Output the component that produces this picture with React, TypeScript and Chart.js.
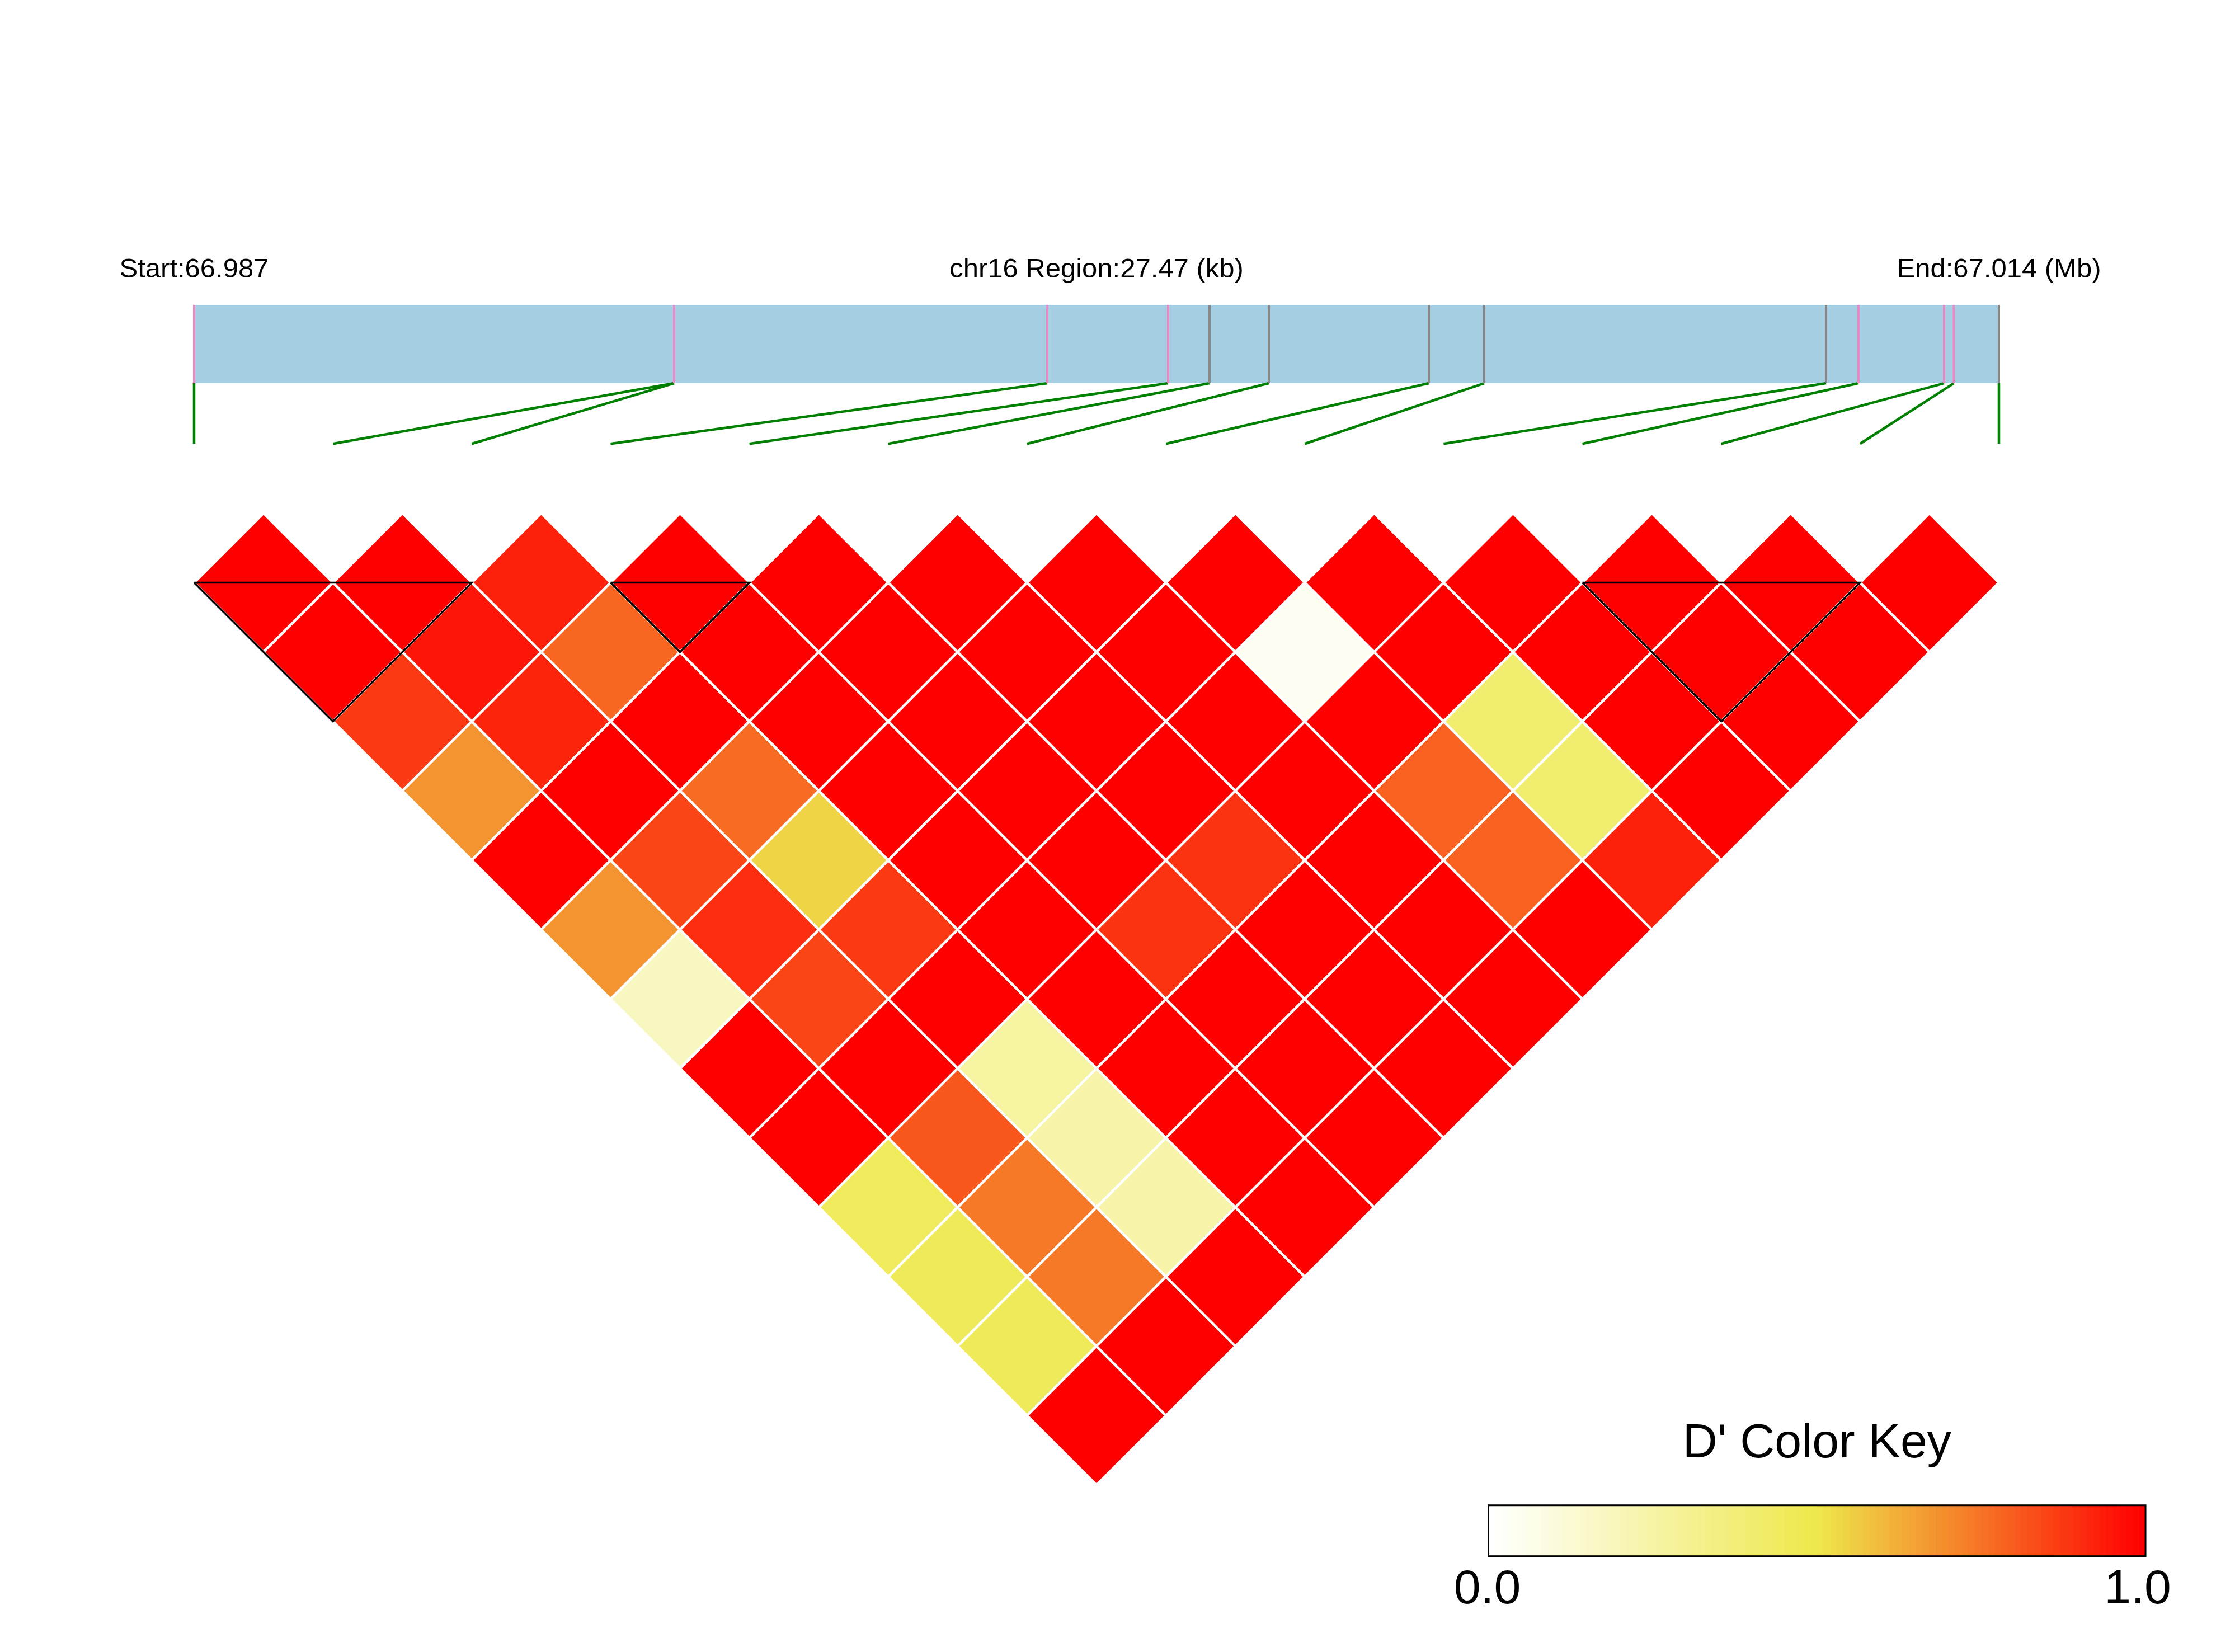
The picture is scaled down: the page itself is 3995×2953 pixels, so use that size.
import React, { useEffect, useRef } from "react";
import { Chart, registerables } from "chart.js";

Chart.register(...registerables);

// ---------------- data ----------------
const CHROM = "chr16";
const START_MB = "66.987";
const END_MB = "67.014";
const REGION_KB = 27.47;

// SNP positions as offsets (kb) from region start
const snpPosKb = [0, 7.306, 7.306, 12.986, 14.825, 15.455, 16.358, 18.793, 19.636, 24.839, 25.333, 26.635, 26.784, 27.47];
// marker class on the region bar (1 = pink mark, 2 = grey mark)
const snpClass = [1, 1, 1, 1, 1, 2, 2, 2, 2, 2, 1, 1, 1, 2];

// D' values: row i holds pairs (i, i+1) ... (i, 13)
const dRow0 = [1, 1, 0.875, 0.68, 1, 0.68, 0.175, 1, 1, 0.45, 0.46, 0.46, 1];
const dRow1 = [1, 0.955, 0.92, 1, 0.85, 0.9, 0.85, 1, 0.815, 0.74, 0.74, 1];
const dRow2 = [0.93, 0.78, 1, 0.77, 0.54, 0.875, 1, 0.26, 0.24, 0.24, 1];
const dRow3 = [1, 1, 1, 1, 1, 1, 1, 1, 1, 1];
const dRow4 = [1, 1, 1, 1, 1, 0.89, 1, 1, 1];
const dRow5 = [1, 1, 1, 1, 0.89, 1, 1, 1];
const dRow6 = [1, 1, 1, 1, 1, 1, 1];
const dRow7 = [1, 0.04, 1, 0.79, 0.79, 1];
const dRow8 = [1, 1, 0.4, 0.4, 0.93];
const dRow9 = [1, 1, 1, 1];
const dRow10 = [1, 1, 1];
const dRow11 = [1, 1];
const dRow12 = [1];
const dprimeRows = [dRow0, dRow1, dRow2, dRow3, dRow4, dRow5, dRow6, dRow7, dRow8, dRow9, dRow10, dRow11, dRow12];

// haplotype blocks (first SNP index, last SNP index)
const blocks = [[0, 2], [3, 4], [10, 12]];

const keyTicks = ["0.0", "1.0"];
const KEY_TITLE = "D' Color Key";

// ---------------- layout (in scale units) ----------------
const W = 3995;
const H = 2953;
const N = snpPosKb.length;
const X_MIN = -1.3983;
const X_MAX = 14.7006;
const Y_MIN = -7.3933;
const Y_MAX = 16.4068;
const BAR_TOP = -3.0;
const BAR_BOTTOM = -1.872;
const LINK_END = -1.0;
const LABEL_Y = -3.396;
const KEY_X0 = 9.323;
const KEY_X1 = 14.056;
const KEY_Y0 = 14.293;
const KEY_Y1 = 15.026;
const KEY_TITLE_Y = 13.602;
const KEY_TICK_Y = 15.703;
const KEY_TICK_X = [9.315, 14.0];
const FONT = "'Liberation Sans', Arial, Helvetica, sans-serif";

function dColor(v: number): string {
  const Y = [238, 232, 75];
  let r: number, g: number, b: number;
  if (v <= 0.5) {
    const t = v / 0.5;
    r = 255 + (Y[0] - 255) * t;
    g = 255 + (Y[1] - 255) * t;
    b = 255 + (Y[2] - 255) * t;
  } else {
    const t = (v - 0.5) / 0.5;
    r = Y[0] + (255 - Y[0]) * t;
    g = Y[1] * (1 - t);
    b = Y[2] * (1 - t);
  }
  return `rgb(${Math.round(r)},${Math.round(g)},${Math.round(b)})`;
}

const xOfKb = (kb: number) => (kb / REGION_KB) * (N - 1);

const annotPlugin = {
  id: "ldAnnot",
  afterDatasetsDraw(chart: any) {
    const { ctx } = chart;
    const x = chart.scales.x;
    const y = chart.scales.y;
    ctx.save();
    ctx.fillStyle = "#000";
    ctx.textAlign = "center";
    ctx.textBaseline = "alphabetic";
    ctx.font = `49px ${FONT}`;
    const ly = y.getPixelForValue(LABEL_Y);
    ctx.fillText(`Start:${START_MB}`, x.getPixelForValue(0), ly);
    ctx.fillText(`${CHROM} Region:${REGION_KB.toFixed(2)} (kb)`, x.getPixelForValue((N - 1) / 2), ly);
    ctx.fillText(`End:${END_MB} (Mb)`, x.getPixelForValue(N - 1), ly);

    // colour key
    const x0 = x.getPixelForValue(KEY_X0);
    const x1 = x.getPixelForValue(KEY_X1);
    const y0 = y.getPixelForValue(KEY_Y0);
    const y1 = y.getPixelForValue(KEY_Y1);
    const n = 100;
    const sw = (x1 - x0) / n;
    for (let k = 0; k < n; k++) {
      ctx.fillStyle = dColor(k / (n - 1));
      ctx.fillRect(x0 + k * sw, y0, sw + 0.6, y1 - y0);
    }
    ctx.strokeStyle = "#000";
    ctx.lineWidth = 3;
    ctx.strokeRect(x0, y0, x1 - x0, y1 - y0);

    ctx.fillStyle = "#000";
    ctx.font = `86px ${FONT}`;
    ctx.fillText(KEY_TITLE, (x0 + x1) / 2, y.getPixelForValue(KEY_TITLE_Y));
    const ty = y.getPixelForValue(KEY_TICK_Y);
    ctx.fillText(keyTicks[0], x.getPixelForValue(KEY_TICK_X[0]), ty);
    ctx.fillText(keyTicks[1], x.getPixelForValue(KEY_TICK_X[1]), ty);
    ctx.restore();
  },
};

export default function App() {
  const ref = useRef<HTMLCanvasElement | null>(null);

  useEffect(() => {
    if (!ref.current) return;
    const datasets: any[] = [];

    // region bar
    datasets.push({
      data: [{ x: 0, y: BAR_TOP }, { x: N - 1, y: BAR_TOP }],
      fill: { value: BAR_BOTTOM },
      backgroundColor: "#A6CEE3",
      borderColor: "rgba(0,0,0,0)",
      borderWidth: 0,
      pointRadius: 0,
      order: 10,
    });

    // SNP marks on bar
    snpPosKb.forEach((kb, i) => {
      const px = xOfKb(kb);
      datasets.push({
        data: [{ x: px, y: BAR_TOP }, { x: px, y: BAR_BOTTOM }],
        borderColor: snpClass[i] === 1 ? "#E78AC3" : "#888888",
        borderWidth: 4,
        pointRadius: 0,
        fill: false,
        order: 6,
      });
    });

    // green connector lines
    snpPosKb.forEach((kb, i) => {
      datasets.push({
        data: [{ x: xOfKb(kb), y: BAR_BOTTOM }, { x: i, y: LINK_END }],
        borderColor: "#008000",
        borderWidth: 4.5,
        pointRadius: 0,
        fill: false,
        order: 6,
      });
    });

    // LD cells
    const cells: any[] = [];
    dprimeRows.forEach((row, i) => {
      row.forEach((v, k) => {
        const j = i + 1 + k;
        cells.push({ x: (i + j) / 2, y: j - i, v });
      });
    });
    const halfCell = (ctx: any) => {
      const s = ctx.chart.scales.x;
      if (!s) return 0;
      return Math.abs(s.getPixelForValue(0.5) - s.getPixelForValue(0));
    };
    datasets.push({
      data: cells,
      showLine: false,
      fill: false,
      pointStyle: "rectRot",
      pointRadius: halfCell,
      pointHoverRadius: halfCell,
      pointBackgroundColor: (ctx: any) => dColor(ctx.raw && ctx.raw.v !== undefined ? ctx.raw.v : 1),
      pointBorderColor: "#ffffff",
      pointBorderWidth: 4.5,
      order: 3,
    });

    // block outlines
    blocks.forEach(([a, b]) => {
      datasets.push({
        data: [
          { x: a, y: 1 },
          { x: b, y: 1 },
          { x: (a + b) / 2, y: 1 + (b - a) },
          { x: a, y: 1 },
        ],
        borderColor: "#000000",
        borderWidth: 3.5,
        borderJoinStyle: "miter",
        pointRadius: 0,
        fill: false,
        order: 1,
      });
    });

    const chart = new Chart(ref.current, {
      type: "line",
      data: { datasets },
      options: {
        animation: false,
        responsive: false,
        devicePixelRatio: 1,
        layout: { padding: 0 },
        events: [],
        scales: {
          x: { type: "linear", min: X_MIN, max: X_MAX, bounds: "data", display: false },
          y: { type: "linear", min: Y_MIN, max: Y_MAX, bounds: "data", reverse: true, display: false },
        },
        plugins: {
          legend: { display: false },
          tooltip: { enabled: false },
          title: { display: false },
        },
      },
      plugins: [annotPlugin],
    } as any);
    return () => chart.destroy();
  }, []);

  return (
    <canvas
      ref={ref}
      width={W}
      height={H}
      style={{ position: "absolute", left: 0, top: 0, width: W, height: H, background: "#fff" }}
    />
  );
}
